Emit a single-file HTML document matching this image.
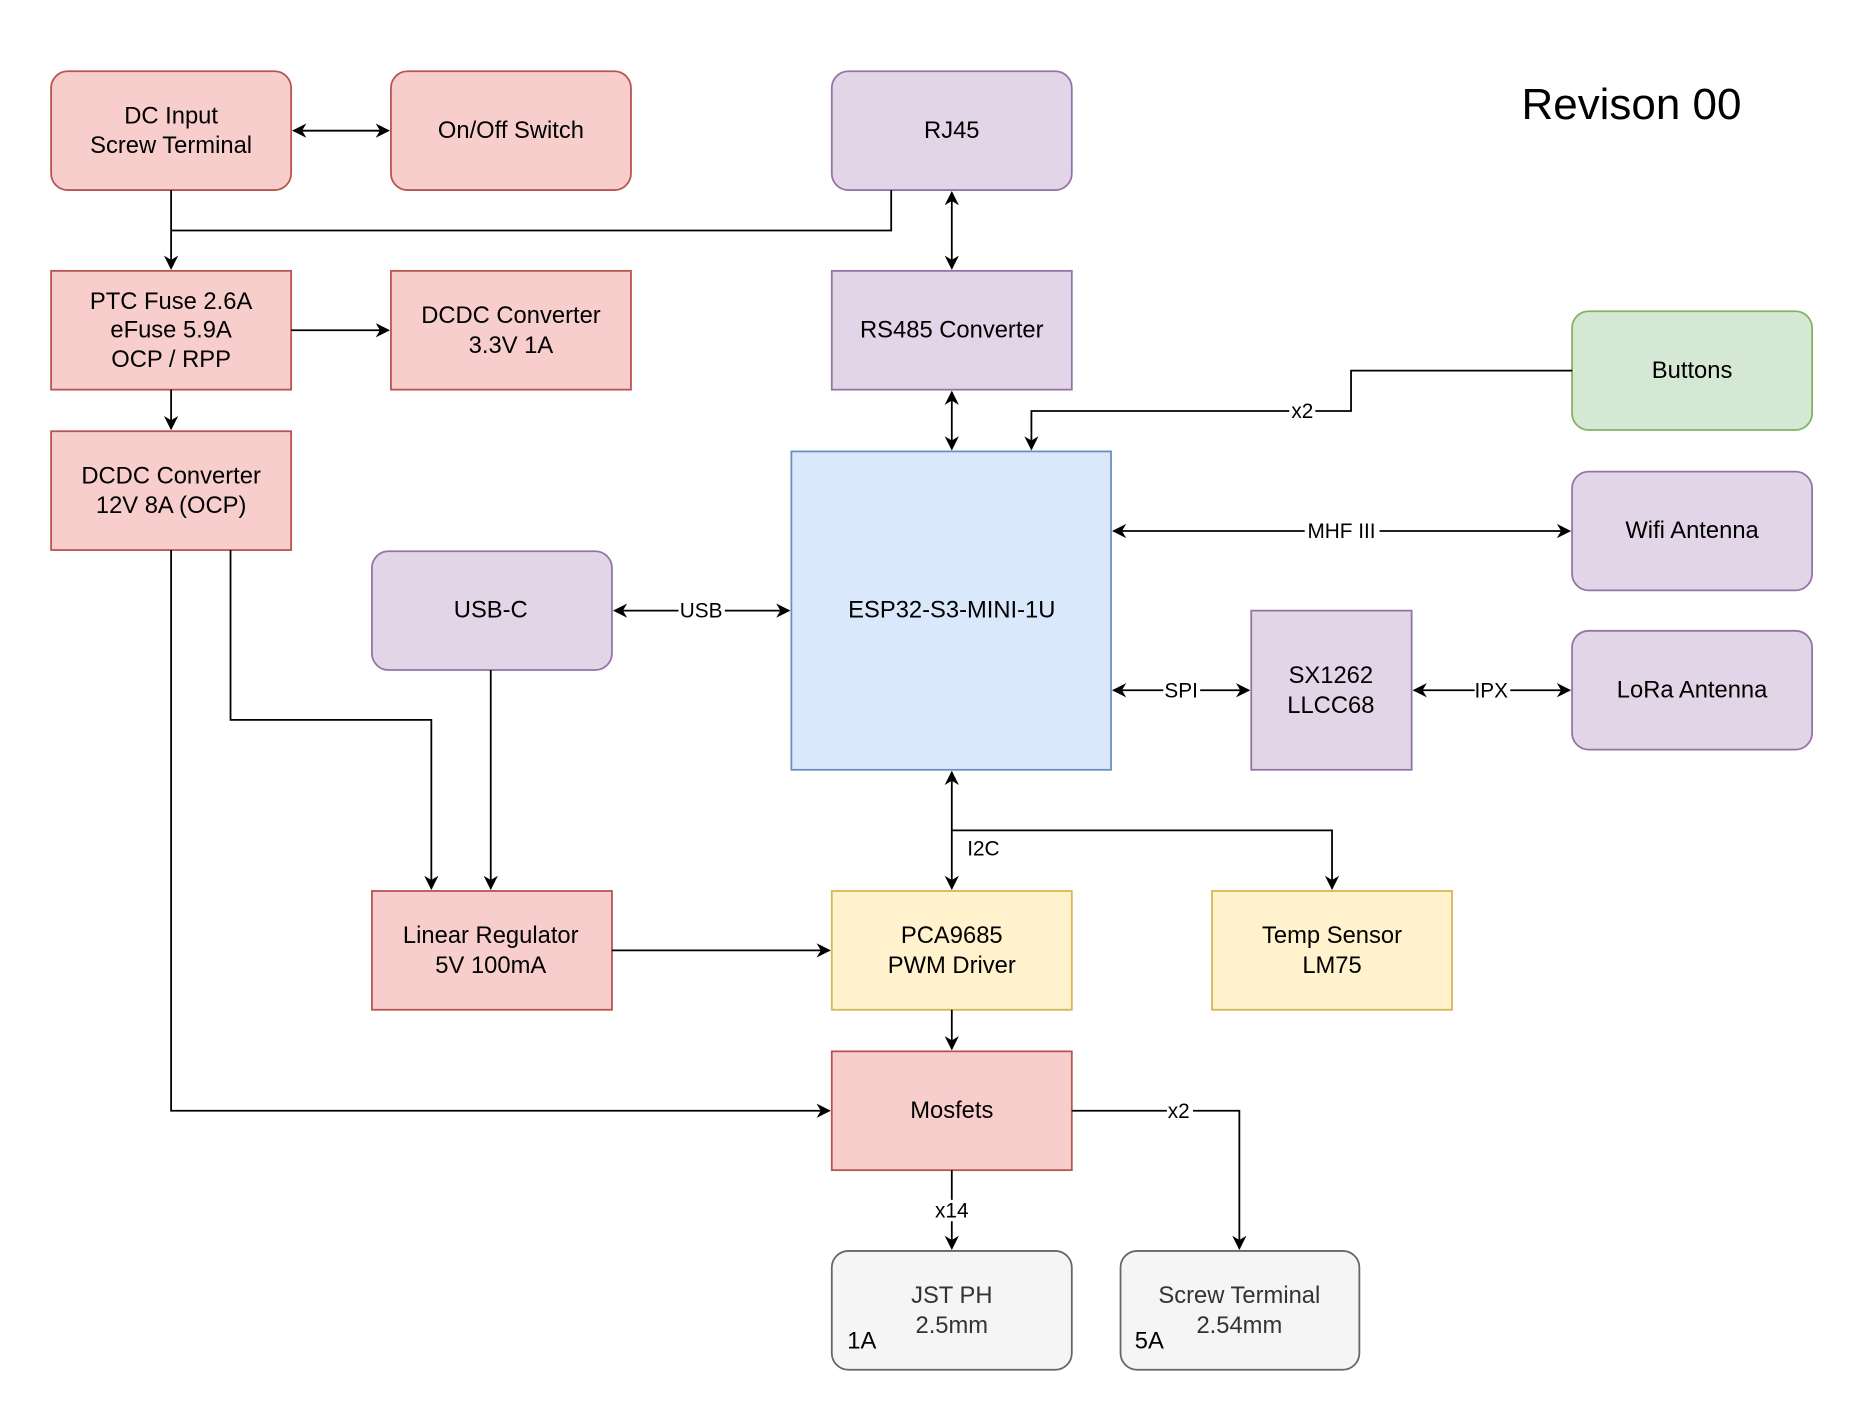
<!DOCTYPE html>
<html><head><meta charset="utf-8"><style>
html,body{margin:0;padding:0;background:#fff;}
svg{display:block;}
text{font-family:"Liberation Sans",Arial,sans-serif;font-size:20px;fill:#000;}
</style></head><body>
<svg width="1862" height="1422" viewBox="0 0 1567 1197" preserveAspectRatio="none" xmlns="http://www.w3.org/2000/svg">
<defs>
<marker id="a" viewBox="0 0 10 10" refX="9" refY="5" markerWidth="12" markerHeight="12" markerUnits="userSpaceOnUse" orient="auto-start-reverse">
<path d="M0,0 L10,5 L0,10 L3,5 z" fill="#000"/>
</marker>
</defs>
<rect width="1567" height="1197" fill="#fff"/>
<g stroke-width="1.5">
<rect x="43" y="60" width="202" height="100" rx="14" fill="#f8cecc" stroke="#b85450"/>
<rect x="329" y="60" width="202" height="100" rx="14" fill="#f8cecc" stroke="#b85450"/>
<rect x="700" y="60" width="202" height="100" rx="14" fill="#e1d5e7" stroke="#9673a6"/>
<rect x="43" y="228" width="202" height="100" fill="#f8cecc" stroke="#b85450"/>
<rect x="329" y="228" width="202" height="100" fill="#f8cecc" stroke="#b85450"/>
<rect x="700" y="228" width="202" height="100" fill="#e1d5e7" stroke="#9673a6"/>
<rect x="1323" y="262" width="202" height="100" rx="14" fill="#d5e8d4" stroke="#82b366"/>
<rect x="43" y="363" width="202" height="100" fill="#f8cecc" stroke="#b85450"/>
<rect x="666" y="380" width="269" height="268" fill="#dae8fc" stroke="#6c8ebf"/>
<rect x="1323" y="397" width="202" height="100" rx="14" fill="#e1d5e7" stroke="#9673a6"/>
<rect x="313" y="464" width="202" height="100" rx="14" fill="#e1d5e7" stroke="#9673a6"/>
<rect x="1053" y="514" width="135" height="134" fill="#e1d5e7" stroke="#9673a6"/>
<rect x="1323" y="531" width="202" height="100" rx="14" fill="#e1d5e7" stroke="#9673a6"/>
<rect x="313" y="750" width="202" height="100" fill="#f8cecc" stroke="#b85450"/>
<rect x="700" y="750" width="202" height="100" fill="#fff2cc" stroke="#d6b656"/>
<rect x="1020" y="750" width="202" height="100" fill="#fff2cc" stroke="#d6b656"/>
<rect x="700" y="885" width="202" height="100" fill="#f8cecc" stroke="#b85450"/>
<rect x="700" y="1053" width="202" height="100" rx="14" fill="#f5f5f5" stroke="#666666"/>
<rect x="943" y="1053" width="201" height="100" rx="14" fill="#f5f5f5" stroke="#666666"/>
</g>
<g fill="none" stroke="#000" stroke-width="1.5">
<path d="M247,110 H327" marker-start="url(#a)" marker-end="url(#a)"/>
<path d="M144,160 V226" marker-end="url(#a)"/>
<path d="M750,160 V194 H144"/>
<path d="M801,162 V226" marker-start="url(#a)" marker-end="url(#a)"/>
<path d="M245,278 H327" marker-end="url(#a)"/>
<path d="M144,328 V361" marker-end="url(#a)"/>
<path d="M801,330 V378" marker-start="url(#a)" marker-end="url(#a)"/>
<path d="M1323,312 H1137 V346 H868 V378" marker-end="url(#a)"/>
<path d="M937,447 H1321" marker-start="url(#a)" marker-end="url(#a)"/>
<path d="M517,514 H664" marker-start="url(#a)" marker-end="url(#a)"/>
<path d="M937,581 H1051" marker-start="url(#a)" marker-end="url(#a)"/>
<path d="M1190,581 H1321" marker-start="url(#a)" marker-end="url(#a)"/>
<path d="M801,650 V748" marker-start="url(#a)" marker-end="url(#a)"/>
<path d="M801,699 H1121 V748" marker-end="url(#a)"/>
<path d="M194,463 V606 H363 V748" marker-end="url(#a)"/>
<path d="M413,564 V748" marker-end="url(#a)"/>
<path d="M515,800 H698" marker-end="url(#a)"/>
<path d="M801,850 V883" marker-end="url(#a)"/>
<path d="M144,463 V935 H698" marker-end="url(#a)"/>
<path d="M801,985 V1051" marker-end="url(#a)"/>
<path d="M902,935 H1043 V1051" marker-end="url(#a)"/>
</g>
<g fill="#fff">
<rect x="1085" y="337" width="22" height="18"/>
<rect x="1098" y="438" width="63" height="18"/>
<rect x="571" y="505" width="39" height="18"/>
<rect x="979" y="572" width="31" height="18"/>
<rect x="1241" y="572" width="30" height="18"/>
<rect x="785" y="1010" width="32" height="18"/>
<rect x="982" y="926" width="22" height="18"/>
</g>
<g>
<text x="1096" y="352" text-anchor="middle" style="font-size:17.5px">x2</text>
<text x="1129" y="453" text-anchor="middle" style="font-size:17.5px">MHF III</text>
<text x="590" y="520" text-anchor="middle" style="font-size:17.5px">USB</text>
<text x="994" y="587" text-anchor="middle" style="font-size:17.5px">SPI</text>
<text x="1255" y="587" text-anchor="middle" style="font-size:17.5px">IPX</text>
<text x="814" y="720" style="font-size:17.5px">I2C</text>
<text x="801" y="1025" text-anchor="middle" style="font-size:17.5px">x14</text>
<text x="992" y="941" text-anchor="middle" style="font-size:17.5px">x2</text>
</g>
<g text-anchor="middle">
<text x="144" y="104">DC Input</text><text x="144" y="129">Screw Terminal</text>
<text x="430" y="116">On/Off Switch</text>
<text x="801" y="116">RJ45</text>
<text x="144" y="260">PTC Fuse 2.6A</text><text x="144" y="284">eFuse 5.9A</text><text x="144" y="309">OCP / RPP</text>
<text x="430" y="272">DCDC Converter</text><text x="430" y="297">3.3V 1A</text>
<text x="801" y="284">RS485 Converter</text>
<text x="1424" y="318">Buttons</text>
<text x="144" y="407">DCDC Converter</text><text x="144" y="432">12V 8A (OCP)</text>
<text x="801" y="520">ESP32-S3-MINI-1U</text>
<text x="1424" y="453">Wifi Antenna</text>
<text x="413" y="520">USB-C</text>
<text x="1120" y="575">SX1262</text><text x="1120" y="600">LLCC68</text>
<text x="1424" y="587">LoRa Antenna</text>
<text x="413" y="794">Linear Regulator</text><text x="413" y="819">5V 100mA</text>
<text x="801" y="794">PCA9685</text><text x="801" y="819">PWM Driver</text>
<text x="1121" y="794">Temp Sensor</text><text x="1121" y="819">LM75</text>
<text x="801" y="941">Mosfets</text>
<text x="801" y="1097" style="fill:#333">JST PH</text><text x="801" y="1122" style="fill:#333">2.5mm</text>
<text x="1043" y="1097" style="fill:#333">Screw Terminal</text><text x="1043" y="1122" style="fill:#333">2.54mm</text>
</g>
<text x="713" y="1135">1A</text>
<text x="955" y="1135">5A</text>
<text x="1373" y="100" text-anchor="middle" style="font-size:37px">Revison 00</text>
</svg>
</body></html>
